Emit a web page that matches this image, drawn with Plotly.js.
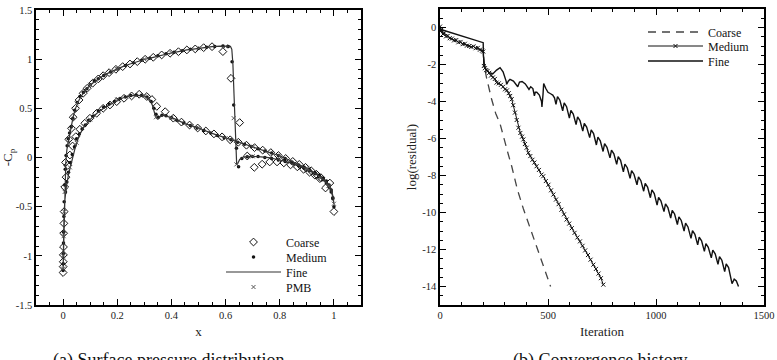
<!DOCTYPE html>
<html>
<head>
<meta charset="utf-8">
<script src="https://cdn.plot.ly/plotly-3.0.1.min.js"></script>
<style>
  html, body { margin: 0; padding: 0; background: #fff; }
  #chart { width: 777px; height: 360px; }
</style>
</head>
<body>
<div id="chart"></div>
<script>
// ---------- (a) surface pressure distribution ----------
// fine grid: lower surface from trailing edge to leading edge, then upper surface back to trailing edge
const fineX = [
  1.000, 0.997, 0.990, 0.980, 0.965, 0.950, 0.930, 0.910, 0.880, 0.850, 0.815, 0.780, 0.750, 0.700,
  0.650, 0.600, 0.550, 0.500, 0.450, 0.410, 0.385, 0.370, 0.360, 0.350, 0.345, 0.338, 0.330, 0.320,
  0.305, 0.280, 0.250, 0.220, 0.185, 0.155, 0.125, 0.100, 0.075, 0.056, 0.043, 0.030, 0.021, 0.012,
  0.006, 0.003, 0.001, 0.000,
  0.002, 0.004, 0.007, 0.010, 0.014, 0.021, 0.026, 0.031, 0.037, 0.046, 0.059, 0.074, 0.089, 0.109,
  0.130, 0.148, 0.170, 0.195, 0.220, 0.247, 0.274, 0.303, 0.333, 0.364, 0.395, 0.426, 0.457, 0.488,
  0.519, 0.550, 0.580, 0.605, 0.618, 0.623, 0.627, 0.631, 0.635, 0.638, 0.641, 0.645, 0.652, 0.665,
  0.690, 0.720, 0.760, 0.800, 0.840, 0.880, 0.910, 0.940, 0.960, 0.975, 0.988, 0.996, 1.000
];
const fineCp = [
  -0.47, -0.40, -0.32, -0.27, -0.225, -0.195, -0.16, -0.125, -0.085, -0.045, 0.000, 0.035, 0.062, 0.108,
  0.150, 0.195, 0.245, 0.300, 0.345, 0.395, 0.420, 0.430, 0.420, 0.390, 0.400, 0.450, 0.530, 0.590,
  0.620, 0.632, 0.630, 0.605, 0.555, 0.510, 0.450, 0.385, 0.305, 0.200, 0.080, -0.05, -0.16, -0.30,
  -0.45, -0.65, -0.90, -1.15,
  -0.70, -0.45, -0.20, -0.05, 0.080, 0.190, 0.250, 0.310, 0.410, 0.500, 0.585, 0.653, 0.704, 0.755,
  0.799, 0.832, 0.863, 0.897, 0.924, 0.951, 0.975, 0.999, 1.019, 1.043, 1.060, 1.076, 1.094, 1.104,
  1.117, 1.127, 1.133, 1.135, 1.130, 1.100, 0.950, 0.650, 0.300, 0.050, -0.075, -0.06, -0.02, 0.005,
  0.012, 0.008, -0.002, -0.025, -0.055, -0.095, -0.135, -0.18, -0.225, -0.27, -0.33, -0.40, -0.47
];

// coarse grid (open diamonds): lower surface, then upper surface
const coarseX = [
  0.985, 0.969, 0.952, 0.935, 0.916, 0.895, 0.872, 0.848, 0.822, 0.795, 0.767, 0.737, 0.707, 0.677,
  0.647, 0.617, 0.587, 0.557, 0.527, 0.497, 0.467, 0.437, 0.407, 0.377, 0.346, 0.328, 0.309, 0.281,
  0.253, 0.225, 0.198, 0.173, 0.148, 0.124, 0.099, 0.080, 0.062, 0.047, 0.035, 0.025, 0.017, 0.011,
  0.000, 0.0003, 0.0006, 0.001, 0.0015, 0.002, 0.003, 0.004, 0.006, 0.009, 0.021, 0.031, 0.037, 0.046,
  0.059, 0.074, 0.089, 0.109, 0.130, 0.148, 0.170, 0.195, 0.220, 0.247, 0.274, 0.303, 0.333, 0.364,
  0.395, 0.426, 0.457, 0.488, 0.519, 0.550, 0.590, 0.620, 0.652, 0.680, 0.706, 0.735, 0.763, 0.790,
  0.815, 0.840, 0.865, 0.888, 0.910, 0.930, 0.948, 1.000
];
const coarseCp = [
  -0.26, -0.31, -0.205, -0.17, -0.135, -0.10, -0.07, -0.04, -0.01, 0.020, 0.050, 0.075, 0.100, 0.125,
  0.155, 0.180, 0.210, 0.240, 0.270, 0.300, 0.330, 0.360, 0.400, 0.466, 0.520, 0.590, 0.620, 0.643,
  0.626, 0.602, 0.568, 0.534, 0.500, 0.450, 0.399, 0.348, 0.287, 0.212, 0.117, 0.025, -0.08, -0.20,
  -1.17, -1.11, -1.06, -0.99, -0.91, -0.77, -0.67, -0.55, -0.30, -0.05, 0.185, 0.297, 0.409, 0.500,
  0.585, 0.653, 0.704, 0.755, 0.799, 0.832, 0.863, 0.897, 0.924, 0.951, 0.975, 0.999, 1.019, 1.043,
  1.060, 1.076, 1.094, 1.104, 1.117, 1.127, 1.077, 0.805, 0.355, 0.015, -0.10, -0.068, -0.045, -0.045,
  -0.055, -0.075, -0.095, -0.12, -0.15, -0.18, -0.215, -0.55
];

// medium grid (filled dots): upper surface, then lower surface
const mediumX = [
  0.000, 0.0005, 0.001, 0.0015, 0.002, 0.003, 0.004, 0.006, 0.008, 0.011, 0.015, 0.019, 0.024, 0.030,
  0.036, 0.043, 0.052, 0.062, 0.075, 0.088, 0.100, 0.115, 0.130, 0.150, 0.175, 0.200, 0.230, 0.260,
  0.290, 0.320, 0.350, 0.380, 0.410, 0.440, 0.470, 0.500, 0.530, 0.560, 0.590, 0.610, 0.624, 0.630,
  0.640, 0.648, 0.660, 0.680, 0.700, 0.720, 0.745, 0.770, 0.795, 0.820, 0.845, 0.870, 0.890, 0.910,
  0.930, 0.945, 0.960, 0.972, 0.982, 0.990, 0.996, 1.000,
  0.996, 0.990, 0.982, 0.972, 0.960, 0.945, 0.930, 0.910, 0.890, 0.870, 0.845, 0.820, 0.795, 0.770,
  0.745, 0.720, 0.695, 0.670, 0.645, 0.620, 0.595, 0.570, 0.545, 0.520, 0.495, 0.470, 0.445, 0.420,
  0.400, 0.380, 0.365, 0.352, 0.343, 0.335, 0.325, 0.310, 0.290, 0.270, 0.250, 0.230, 0.210, 0.190,
  0.170, 0.150, 0.130, 0.110, 0.095, 0.082, 0.070, 0.060, 0.050, 0.042, 0.034, 0.027, 0.020, 0.014,
  0.009
];
const mediumCp = [
  -1.15, -1.08, -0.98, -0.87, -0.76, -0.60, -0.45, -0.28, -0.12, 0.020, 0.120, 0.190, 0.250, 0.310,
  0.400, 0.480, 0.560, 0.620, 0.660, 0.700, 0.740, 0.780, 0.800, 0.835, 0.870, 0.900, 0.935, 0.963,
  0.990, 1.010, 1.035, 1.055, 1.070, 1.085, 1.100, 1.110, 1.120, 1.130, 1.135, 1.130, 0.975, 0.534,
  0.093, -0.094, -0.01, 0.008, 0.010, 0.010, 0.000, -0.01, -0.025, -0.04, -0.055, -0.085, -0.11, -0.135,
  -0.165, -0.195, -0.225, -0.26, -0.30, -0.35, -0.42, -0.50,
  -0.41, -0.33, -0.28, -0.24, -0.21, -0.18, -0.155, -0.125, -0.10, -0.075, -0.045, -0.01, 0.020, 0.045,
  0.067, 0.090, 0.112, 0.135, 0.155, 0.180, 0.200, 0.225, 0.250, 0.275, 0.300, 0.325, 0.350, 0.380,
  0.405, 0.425, 0.430, 0.410, 0.440, 0.500, 0.570, 0.615, 0.632, 0.635, 0.630, 0.615, 0.600, 0.570,
  0.545, 0.510, 0.475, 0.420, 0.380, 0.330, 0.290, 0.240, 0.190, 0.110, 0.030, -0.05, -0.15, -0.25,
  -0.35
];

// PMB reference solution (small crosses)
const pmbX = [
  0.000, 0.001, 0.002, 0.004, 0.006, 0.020, 0.050, 0.100, 0.200, 0.300, 0.400, 0.500, 0.600, 0.630,
  0.640, 0.700, 0.800, 0.900, 0.950, 0.980, 1.000,
  0.900, 0.800, 0.700, 0.600, 0.500, 0.400, 0.343, 0.300, 0.200, 0.100, 0.050, 0.025
];
const pmbCp = [
  -1.13, -1.00, -0.80, -0.55, -0.35, 0.150, 0.550, 0.740, 0.900, 1.000, 1.065, 1.110, 1.130, 0.400,
  -0.07, 0.012, -0.025, -0.12, -0.21, -0.29, -0.47,
  -0.105, 0.015, 0.108, 0.195, 0.300, 0.405, 0.409, 0.625, 0.590, 0.385, 0.150, -0.10
];

// ---------- (b) convergence history ----------
const coarseIter = [
  0, 10, 25, 40, 60, 80, 100, 120, 140, 160, 180, 198, 201, 204, 210, 216, 239, 258, 278, 297,
  316, 332, 358, 386, 416, 447, 476, 506, 512
];
const coarseRes = [
  -0.05, -0.30, -0.45, -0.55, -0.68, -0.78, -0.86, -0.95, -1.02, -1.10, -1.18, -1.25, -1.40, -2.00,
  -2.45, -2.75, -3.88, -4.65, -5.20, -6.10, -6.85, -7.50, -8.75, -9.80, -10.8, -11.8, -12.8, -13.8, -14.0
];

const mediumIter = [
  0, 4, 8, 14, 20, 28, 36, 45, 55, 65, 75, 85, 95, 105, 115, 125, 135, 145, 155, 165, 175, 185, 195,
  200, 203, 208, 214, 220, 228, 236, 245, 254, 262, 272, 282, 292, 301, 310, 318, 325, 332, 339, 347,
  355, 363, 372, 380, 386, 393, 401, 409, 418, 428, 437, 447, 458, 470, 478, 490, 502, 514, 525, 537,
  549, 562, 574, 586, 598, 610, 623, 636, 648, 660, 672, 685, 697, 710, 722, 734, 745, 756
];
const mediumRes = [
  0.05, -0.20, -0.10, -0.35, -0.30, -0.48, -0.45, -0.58, -0.60, -0.70, -0.68, -0.80, -0.78, -0.90,
  -0.88, -0.98, -1.00, -1.05, -1.02, -1.12, -1.10, -1.20, -1.25, -1.30, -2.08, -2.20, -2.30, -2.35,
  -2.45, -2.60, -2.70, -2.78, -2.98, -3.02, -3.10, -3.20, -3.34, -3.40, -3.55, -3.70, -3.88, -4.20,
  -4.60, -5.00, -5.42, -5.70, -5.90, -6.05, -6.30, -6.50, -6.77, -6.95, -7.15, -7.30, -7.50, -7.70,
  -7.95, -8.04, -8.30, -8.50, -8.80, -9.03, -9.30, -9.55, -9.85, -10.1, -10.38, -10.6, -10.85, -11.1,
  -11.35, -11.56, -11.8, -12.05, -12.3, -12.55, -12.82, -13.05, -13.3, -13.55, -13.9
];

const fineIter = [
  0, 3, 8, 200, 201, 205, 213, 228, 245, 262, 278, 292, 306, 309, 316, 324, 340, 356, 360, 368,
  380, 395, 408, 412, 420, 430, 437, 441, 448, 460, 470, 472, 477, 480, 490, 500, 512, 522, 530,
  537, 544, 555, 568, 575, 586, 599, 606, 617, 630, 637, 648, 661, 668, 679, 693, 700, 711,
  724, 731, 742, 755, 762, 773, 787, 794, 805, 818, 825, 836, 849, 856, 867, 880, 887, 898,
  912, 919, 930, 943, 950, 961, 974, 981, 992, 1005, 1012, 1023, 1037, 1044, 1055, 1068, 1075, 1086,
  1099, 1106, 1117, 1130, 1137, 1148, 1162, 1169, 1180, 1193, 1200, 1211, 1224, 1231, 1242,
  1256, 1263, 1274, 1287, 1294, 1305, 1318, 1325, 1336, 1352, 1362, 1372, 1382
];
const fineRes = [
  0.05, -0.10, -0.12, -0.82, -1.50, -1.99, -2.26, -2.44, -2.50, -2.30, -2.17, -2.40, -2.90, -3.07,
  -2.90, -2.80, -2.90, -3.10, -3.20, -2.95, -2.92, -3.05, -3.30, -3.35, -3.20, -3.30, -3.70, -3.50,
  -3.50, -3.65, -4.00, -4.30, -3.60, -3.03, -3.30, -3.50, -3.58, -3.65, -3.80,
  -4.15, -3.73, -3.93, -4.50, -4.08, -4.28, -4.90, -4.48, -4.68, -5.25, -4.83, -5.03, -5.60, -5.18,
  -5.38, -5.95, -5.53, -5.73, -6.35, -5.93, -6.13, -6.70, -6.28, -6.48, -7.05, -6.63, -6.83, -7.40,
  -6.98, -7.18, -7.80, -7.38, -7.58, -8.15, -7.73, -7.93, -8.50, -8.08, -8.28, -8.85, -8.43, -8.63,
  -9.20, -8.78, -8.98, -9.60, -9.18, -9.38, -9.95, -9.53, -9.73, -10.30, -9.88, -10.08, -10.65,
  -10.23, -10.43, -11.00, -10.58, -10.78, -11.40, -10.98, -11.18, -11.75, -11.33, -11.53, -12.10,
  -11.68, -11.88, -12.45, -12.03, -12.23, -12.80, -12.38, -12.58, -13.20, -12.78, -12.98, -13.85,
  -13.60, -13.70, -14.00
];

// ---------- tick labels ----------
const chordTicks = [0, 0.2, 0.4, 0.6, 0.8, 1];
const chordTickText = ['0', '0.2', '0.4', '0.6', '0.8', '1'];
const cpTicks = [-1.5, -1, -0.5, 0, 0.5, 1, 1.5];
const cpTickText = ['-1.5', '-1', '-0.5', '0', '0.5', '1', '1.5'];
const iterTicks = [0, 500, 1000, 1500];
const iterTickText = ['0', '500', '1000', '1500'];
const resTicks = [0, -2, -4, -6, -8, -10, -12, -14];
const resTickText = ['0', '-2', '-4', '-6', '-8', '-10', '-12', '-14'];

// ---------- layout helpers (pixel -> paper) ----------
const W = 777, H = 360;
const px = x => x / W;
const py = y => 1 - y / H;

const SERIF = 'Liberation Serif, Times New Roman, serif';

function frameAxis(extra) {
  return Object.assign({
    showline: true, linecolor: '#000', linewidth: 1.6, mirror: 'allticks',
    ticks: 'inside', ticklen: 6, tickwidth: 1, tickcolor: '#000',
    showgrid: false, zeroline: false, automargin: false, fixedrange: true,
    tickfont: { family: SERIF, size: 10.5, color: '#222' },
    tickmode: 'array'
  }, extra);
}

const traces = [
  { x: coarseX, y: coarseCp, xaxis: 'x', yaxis: 'y', mode: 'markers', name: 'Coarse', legend: 'legend',
    marker: { symbol: 'diamond-open', size: 6, color: '#111', line: { width: 1, color: '#111' } } },
  { x: mediumX, y: mediumCp, xaxis: 'x', yaxis: 'y', mode: 'markers', name: 'Medium', legend: 'legend2',
    marker: { symbol: 'circle', size: 3.5, color: '#111' } },
  { x: fineX, y: fineCp, xaxis: 'x', yaxis: 'y', mode: 'lines', name: 'Fine', legend: 'legend3',
    line: { color: '#333', width: 1.2 } },
  { x: pmbX, y: pmbCp, xaxis: 'x', yaxis: 'y', mode: 'markers', name: 'PMB', legend: 'legend4',
    marker: { symbol: 'x-thin-open', size: 4, color: '#555', line: { width: 1, color: '#555' } } },

  { x: coarseIter, y: coarseRes, xaxis: 'x2', yaxis: 'y2', mode: 'lines', name: 'Coarse', legend: 'legend5',
    line: { color: '#444', width: 1.3, dash: '8px,6px' } },
  { x: mediumIter, y: mediumRes, xaxis: 'x2', yaxis: 'y2', mode: 'lines+markers', name: 'Medium', legend: 'legend6',
    line: { color: '#111', width: 1 },
    marker: { symbol: 'x-thin-open', size: 4, color: '#111', line: { width: 1, color: '#111' } } },
  { x: fineIter, y: fineRes, xaxis: 'x2', yaxis: 'y2', mode: 'lines', name: 'Fine', legend: 'legend7',
    line: { color: '#111', width: 1.4 } }
];

function legendAt(x, y) {
  return {
    x: px(x), y: py(y), xanchor: 'left', yanchor: 'middle',
    bgcolor: 'rgba(0,0,0,0)', borderwidth: 0, itemwidth: 55,
    font: { family: SERIF, size: 12, color: '#111' }
  };
}

const layout = {
  width: W, height: H,
  margin: { l: 0, r: 0, t: 0, b: 0 },
  paper_bgcolor: '#fff', plot_bgcolor: '#fff',
  showlegend: true,
  hovermode: false,
  font: { family: SERIF },
  xaxis: frameAxis({
    domain: [px(36), px(361)], anchor: 'y', range: [-0.1, 1.1],
    tickvals: chordTicks, ticktext: chordTickText,
    minor: { dtick: 0.05, tick0: 0, ticks: 'inside', ticklen: 3, tickcolor: '#000', showgrid: false },
    title: { text: 'x', standoff: 6, font: { family: SERIF, size: 13, color: '#222' } }
  }),
  yaxis: frameAxis({
    domain: [py(305), py(10)], anchor: 'x', range: [-1.5, 1.5],
    tickvals: cpTicks, ticktext: cpTickText,
    minor: { dtick: 0.1, tick0: 0, ticks: 'inside', ticklen: 3, tickcolor: '#000', showgrid: false },
    title: { text: '-C<sub>p</sub>', standoff: 3, font: { family: SERIF, size: 13, color: '#222' } }
  }),
  xaxis2: frameAxis({
    domain: [px(440), px(764)], anchor: 'y2', range: [0, 1500],
    tickvals: iterTicks, ticktext: iterTickText,
    minor: { dtick: 100, tick0: 0, ticks: 'inside', ticklen: 3, tickcolor: '#000', showgrid: false },
    title: { text: 'Iteration', standoff: 6, font: { family: SERIF, size: 13, color: '#222' } }
  }),
  yaxis2: frameAxis({
    domain: [py(305), py(9)], anchor: 'x2', range: [-15, 1],
    tickvals: resTicks, ticktext: resTickText,
    minor: { dtick: 0.5, tick0: 0, ticks: 'inside', ticklen: 3, tickcolor: '#000', showgrid: false },
    title: { text: 'log(residual)', standoff: 3, font: { family: SERIF, size: 13, color: '#222' } }
  }),
  legend: legendAt(221, 242),
  legend2: legendAt(221, 257),
  legend3: legendAt(221, 272),
  legend4: legendAt(221, 287),
  legend5: legendAt(643, 32),
  legend6: legendAt(643, 46),
  legend7: legendAt(643, 61),
  annotations: [
    { xref: 'paper', yref: 'paper', x: px(168), y: py(348), xanchor: 'center', yanchor: 'top',
      text: '(a) Surface pressure distribution', showarrow: false,
      font: { family: SERIF, size: 18, color: '#111' } },
    { xref: 'paper', yref: 'paper', x: px(600), y: py(348), xanchor: 'center', yanchor: 'top',
      text: '(b) Convergence history', showarrow: false,
      font: { family: SERIF, size: 18, color: '#111' } }
  ]
};

Plotly.newPlot('chart', traces, layout, { staticPlot: true, displayModeBar: false });
</script>
</body>
</html>
